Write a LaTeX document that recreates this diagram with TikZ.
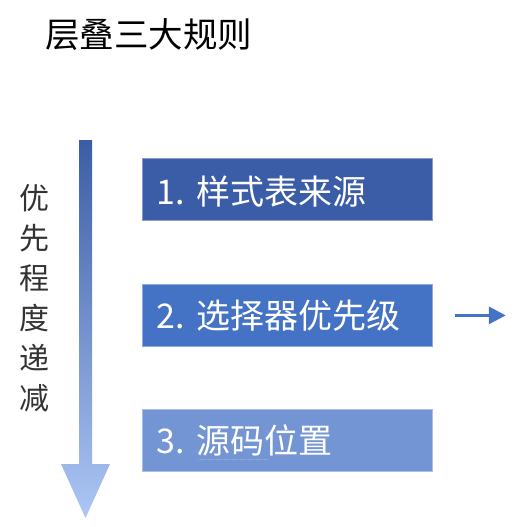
\documentclass[tikz,border=0pt]{standalone}
\usepackage{fontspec}
\setmainfont{Noto Sans CJK SC}
\usetikzlibrary{arrows.meta}
\definecolor{boxA}{HTML}{3B5CA6}
\definecolor{boxB}{HTML}{4472C4}
\definecolor{boxC}{HTML}{7395D4}
\definecolor{arrTop}{HTML}{3A5DA6}
\definecolor{arrBot}{HTML}{ADC6F4}
\definecolor{txtgray}{HTML}{333333}
\tikzset{
  rulebox/.style={draw=#1!60!white, line width=0.8pt, fill=#1, minimum width=290pt, minimum height=62pt, inner sep=0pt, anchor=north west},
  ruletext/.style={text=white, font=\fontsize{34}{36}\selectfont, anchor=west, inner sep=0pt},
  vtext/.style={text=txtgray, font=\fontsize{30}{40}\selectfont, align=center, inner sep=0pt},
}
\begin{document}
\begin{tikzpicture}[x=1pt,y=-1pt]
\useasboundingbox (0,0) rectangle (522,527);
% title
\node[anchor=west, inner sep=0pt, font=\fontsize{34.5}{36}\selectfont] (title) at (45,35) {层叠三大规则};
% big gradient arrow
\shade[top color=arrTop, bottom color=arrBot]
  (79,140) -- (92,140) -- (92,464) -- (110,464) -- (85.5,518) -- (61,464) -- (79,464) -- cycle;
% vertical label
\node[vtext] (vlabel) at (34,298) {优\\先\\程\\度\\递\\减};
% boxes
\node[rulebox=boxA] (b1) at (142,158) {};
\node[rulebox=boxB] (b2) at (142,284) {};
\node[rulebox=boxC] (b3) at (142,409) {};
\node[ruletext] (t1) at ([xshift=14pt,yshift=-2pt]b1.west) {1.\hspace{2pt} 样式表来源};
\node[ruletext] (t2) at ([xshift=14pt]b2.west) {2.\hspace{2pt} 选择器优先级};
\node[ruletext] (t3) at ([xshift=14pt]b3.west) {3.\hspace{2pt} 源码位置};
% dotted underline
\coordinate (u1) at (198,459);
\coordinate (u2) at (267,459);
\draw[densely dotted, color=boxB!60!white, line width=0.6pt] (u1) -- (u2);
% small arrow
\coordinate (a1) at ([xshift=22pt]b2.east);
\coordinate (a2) at ([xshift=73pt]b2.east);
\draw[boxB, line width=3pt, -{Triangle[length=17pt,width=17pt]}] (a1) -- (a2);
\end{tikzpicture}
\end{document}
